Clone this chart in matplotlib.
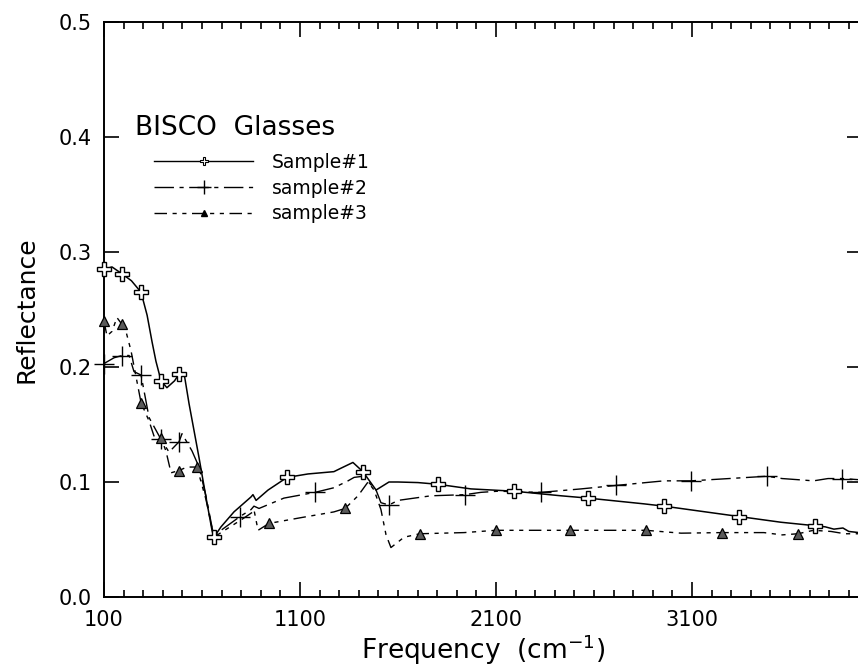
import matplotlib
matplotlib.use("Agg")
import matplotlib.pyplot as plt
from matplotlib.lines import Line2D
from matplotlib.ticker import MultipleLocator, FixedLocator

plt.rcParams['font.family'] = ['DejaVu Sans']

# ---------------- data ----------------
s1_freq = [100, 141, 192, 240, 289, 320, 345, 365, 391, 421, 460, 483, 508, 534, 559, 585,
           620, 651, 661, 697, 763, 850, 860, 876, 937, 1034, 1141, 1273, 1309, 1370,
           1421, 1488, 1554, 1600, 1702, 1804, 1972, 2192, 2432, 2569, 2855, 2957,
           3212, 3340, 3554, 3727, 3780, 3824, 3870, 3900, 3952]
s1_refl = [0.285, 0.287, 0.281, 0.275, 0.265, 0.245, 0.222, 0.205, 0.188, 0.182, 0.188, 0.194,
           0.195, 0.168, 0.145, 0.121, 0.087, 0.058, 0.052, 0.061, 0.074, 0.087, 0.089,
           0.084, 0.093, 0.104, 0.107, 0.109, 0.112, 0.117, 0.109, 0.093, 0.100, 0.100,
           0.0995, 0.098, 0.094, 0.092, 0.088, 0.086, 0.081, 0.079, 0.073, 0.070, 0.065,
           0.062, 0.061, 0.059, 0.060, 0.057, 0.056]
s1_mk_freq = [100, 192, 289, 391, 483, 661, 1034, 1421, 1804, 2192, 2569, 2957, 3340, 3727]
s1_mk_refl = [0.285, 0.281, 0.265, 0.188, 0.194, 0.052, 0.104, 0.109, 0.098, 0.092,
              0.086, 0.079, 0.070, 0.062]

s2_freq = [100, 151, 192, 228, 253, 289, 330, 391, 432, 483, 498, 549, 585, 620, 661,
           697, 794, 850, 865, 891, 1018, 1177, 1273, 1345, 1376, 1421, 1488, 1513,
           1554, 1600, 1768, 1942, 2023, 2110, 2330, 2534, 2712, 2957, 3095, 3386,
           3483, 3560, 3641, 3720, 3794, 3865, 3952]
s2_refl = [0.203, 0.208, 0.210, 0.210, 0.196, 0.193, 0.156, 0.137, 0.126, 0.135, 0.142,
           0.127, 0.113, 0.088, 0.052, 0.058, 0.070, 0.076, 0.079, 0.077, 0.086, 0.091,
           0.095, 0.101, 0.104, 0.105, 0.093, 0.082, 0.080, 0.084, 0.088, 0.089, 0.091,
           0.092, 0.091, 0.094, 0.097, 0.101, 0.101, 0.104, 0.105, 0.103, 0.102, 0.101,
           0.103, 0.103, 0.102]
s2_mk_freq = [100, 192, 289, 391, 483, 794, 1177, 1554, 1942, 2330, 2712, 3095, 3483, 3865]
s2_mk_refl = [0.203, 0.210, 0.193, 0.137, 0.135, 0.070, 0.091, 0.080, 0.089, 0.091,
              0.097, 0.101, 0.105, 0.103]

s3_freq = [100, 115, 141, 166, 192, 212, 238, 289, 330, 355, 391, 416, 442, 483, 523,
           574, 620, 661, 697, 799, 860, 865, 886, 942, 1105, 1273, 1330, 1396, 1447,
           1478, 1513, 1539, 1564, 1631, 1712, 1937, 2100, 2279, 2478, 2865, 3044,
           3253, 3467, 3560, 3641, 3720, 3809, 3880, 3952]
s3_refl = [0.240, 0.227, 0.231, 0.243, 0.237, 0.231, 0.214, 0.169, 0.153, 0.140, 0.138,
           0.127, 0.108, 0.110, 0.113, 0.113, 0.085, 0.052, 0.056, 0.067, 0.074, 0.076,
           0.058, 0.064, 0.069, 0.074, 0.077, 0.088, 0.100, 0.093, 0.076, 0.054, 0.043,
           0.052, 0.055, 0.056, 0.058, 0.058, 0.058, 0.058, 0.0555, 0.056, 0.056, 0.054,
           0.055, 0.058, 0.057, 0.055, 0.055]
s3_mk_freq = [100, 192, 289, 391, 483, 574, 942, 1330, 1712, 2100, 2478, 2865, 3253, 3641]
s3_mk_refl = [0.240, 0.237, 0.169, 0.138, 0.110, 0.113, 0.064, 0.077, 0.055, 0.058,
              0.058, 0.058, 0.056, 0.055]

labels = ["Sample#1", "sample#2", "sample#3"]
x_ticks = [100, 1100, 2100, 3100]
y_ticks = [0.0, 0.1, 0.2, 0.3, 0.4, 0.5]

# ---------------- figure ----------------
W, H = 858, 667
fig = plt.figure(figsize=(W / 100, H / 100), dpi=100)
L, R, T, B = 104, 862, 22, 597
ax = fig.add_axes([L / W, 1 - B / H, (R - L) / W, (B - T) / H])

dash2 = (14, 4, 3, 4)
dash3 = (9, 4, 3, 4, 3, 4)

ax.plot(s1_freq, s1_refl, color='black', lw=1.1, solid_joinstyle='round')
ax.plot(s2_freq, s2_refl, color='black', lw=1.0, dashes=dash2)
ax.plot(s3_freq, s3_refl, color='black', lw=1.0, dashes=dash3)

ax.plot(s1_mk_freq, s1_mk_refl, ls='none', marker='P', ms=9.5, mfc='white',
        mec='black', mew=1.0, clip_on=False, zorder=4)
ax.plot(s2_mk_freq, s2_mk_refl, ls='none', marker='+', ms=15, mec='black',
        mew=1.0, clip_on=False, zorder=4)
ax.plot(s3_mk_freq, s3_mk_refl, ls='none', marker='^', ms=7, mfc='#5a5a5a',
        mec='black', mew=0.9, clip_on=False, zorder=4)

ax.set_xlim(100, 100 + (R - L) / 0.196)
ax.set_ylim(0.0, 0.5)

ax.xaxis.set_major_locator(FixedLocator(x_ticks))
ax.xaxis.set_minor_locator(MultipleLocator(100))
ax.set_xticklabels([str(v) for v in x_ticks])
ax.set_yticks(y_ticks)
ax.set_yticklabels([f"{v:.1f}" for v in y_ticks])

ax.tick_params(axis='both', which='both', direction='in', top=True, right=True,
               colors='black', width=1.2)
ax.tick_params(axis='x', which='major', length=11, labelsize=15, pad=9)
ax.tick_params(axis='x', which='minor', length=5)
ax.tick_params(axis='y', which='major', length=11, labelsize=15, pad=9)

for sp in ax.spines.values():
    sp.set_linewidth(1.4)

ax.set_xlabel("Frequency  (cm$^{-1}$)", fontsize=19, labelpad=2)
ax.set_ylabel("Reflectance", fontsize=18, labelpad=14)

fig.text(135 / W, 1 - 128 / H, "BISCO  Glasses", fontsize=19, ha='left', va='center')

handles = [
    Line2D([], [], color='black', lw=1.0, marker='P', ms=6, mfc='white', mec='black', mew=0.8),
    Line2D([], [], color='black', lw=1.0, dashes=dash2, marker='+', ms=10, mec='black', mew=1.0),
    Line2D([], [], color='black', lw=1.0, dashes=dash3, marker='^', ms=5, mfc='black', mec='black'),
]
ax.legend(handles, labels, loc='upper left', bbox_to_anchor=(154 / W, 1 - 153 / H),
          bbox_transform=fig.transFigure, frameon=False, fontsize=13.5,
          handlelength=5.3, handletextpad=1.0, labelspacing=0.35, borderpad=0,
          borderaxespad=0, numpoints=1)

fig.savefig("out.png", dpi=100)
